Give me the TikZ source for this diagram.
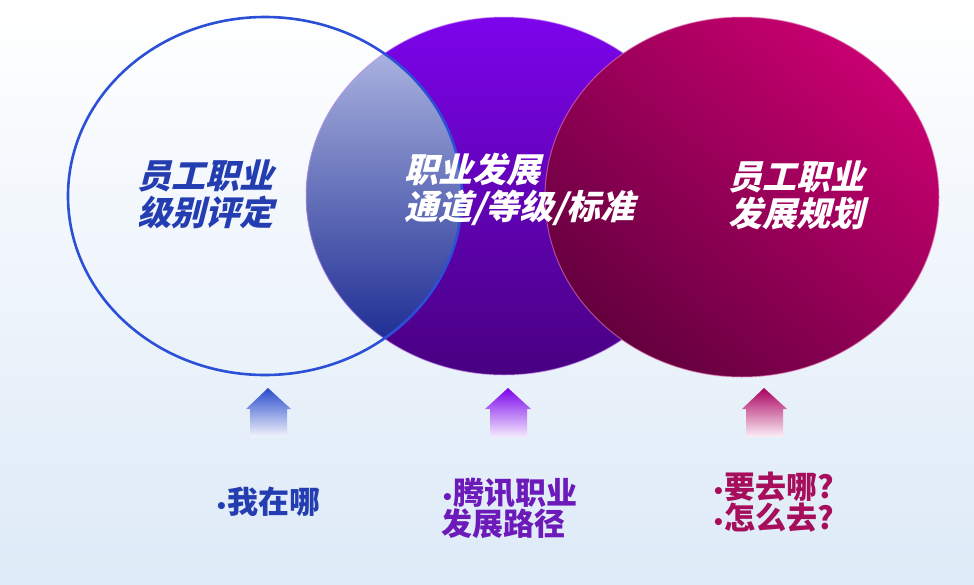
\documentclass[tikz,border=0pt]{standalone}
\usepackage{fontspec}
\newfontfamily\cjk{Noto Sans CJK SC}
\newfontfamily\cjksl{Noto Sans CJK SC}[FakeSlant=0.25]
\newfontfamily\dvs{DejaVu Sans}
\newcommand\mybul{{\dvs\fontsize{20}{20}\selectfont •}}
\definecolor{bgtop}{RGB}{255,255,255}
\definecolor{bgbot}{RGB}{221,234,247}
\definecolor{ringblue}{RGB}{43,79,214}
\definecolor{purtop}{RGB}{124,4,236}
\definecolor{purbot}{RGB}{72,0,128}
\definecolor{ovtop}{RGB}{186,194,232}
\definecolor{ovmid}{RGB}{104,118,196}
\definecolor{ovbot}{RGB}{14,30,138}
\definecolor{redtop}{RGB}{200,0,112}
\definecolor{redbot}{RGB}{100,0,62}
\definecolor{txtblue}{RGB}{36,62,178}
\definecolor{txtpur}{RGB}{108,26,186}
\definecolor{txtred}{RGB}{166,14,92}
\tikzset{
  ttl/.style={font=\cjksl\bfseries\fontsize{34}{37}\selectfont, inner sep=0pt},
  btxt/.style={font=\cjk\bfseries\fontsize{31}{31}\selectfont, inner sep=0pt, align=left},
}
\begin{document}
\begin{tikzpicture}[x=1pt,y=-1pt]
\useasboundingbox (0,0) rectangle (974,584);
% background
\shade[top color=bgtop, bottom color=bgbot] (0,0) rectangle (974,584);
% purple circle
\shade[top color=purtop, bottom color=purbot] (504,196) ellipse [x radius=198, y radius=179];
% overlap left & purple
\begin{scope}
  \clip (265,196) ellipse [x radius=197, y radius=179];
  \shade[top color=ovtop, middle color=ovmid, bottom color=ovbot] (504,196) ellipse [x radius=198, y radius=179];
\end{scope}
\draw[line width=1pt, draw=purtop!40!white, opacity=0.6] (504,196) ellipse [x radius=198, y radius=179];
% left ring
\draw[line width=2.6pt, draw=ringblue] (265,196) ellipse [x radius=197, y radius=179];
% red circle
\shade[top color=redtop, bottom color=redbot, shading angle=-40] (742,197) ellipse [x radius=197, y radius=180];
\draw[line width=1pt, draw=redtop!50!white, opacity=0.6] (742,197) ellipse [x radius=197, y radius=180];
% titles
\node[ttl, text=txtblue, align=center] (t1) at (205,194) {员工职业\\级别评定};
\node[ttl, text=white, align=left, anchor=west] (t2) at (404,189) {职业发展\\通道/等级/标准};
\node[ttl, text=white, align=center] (t3) at (796,195) {员工职业\\发展规划};
% arrows
\shade[top color=ringblue!95!black, bottom color=ringblue!6!white]
  (268,388) -- (291,409) -- (287,409) -- (287,437) -- (250,437) -- (250,409) -- (246,409) -- cycle;
\shade[top color=purtop, bottom color=purtop!8!white]
  (508,388) -- (531,409) -- (527,409) -- (527,437) -- (490,437) -- (490,409) -- (485,409) -- cycle;
\shade[top color=redtop!85!black, bottom color=redtop!6!white]
  (764,388) -- (787,409) -- (783,409) -- (783,437) -- (746,437) -- (746,409) -- (742,409) -- cycle;
% bottom texts
\node[btxt, text=txtblue] (b1) at (268,502) {\mybul 我在哪};
\node[btxt, text=txtpur, anchor=west] (b2) at (441,508) {\mybul 腾讯职业\\发展路径};
\node[btxt, text=txtred, anchor=west] (b3) at (712,502) {\mybul 要去哪?\\\mybul 怎么去?};
\end{tikzpicture}
\end{document}
